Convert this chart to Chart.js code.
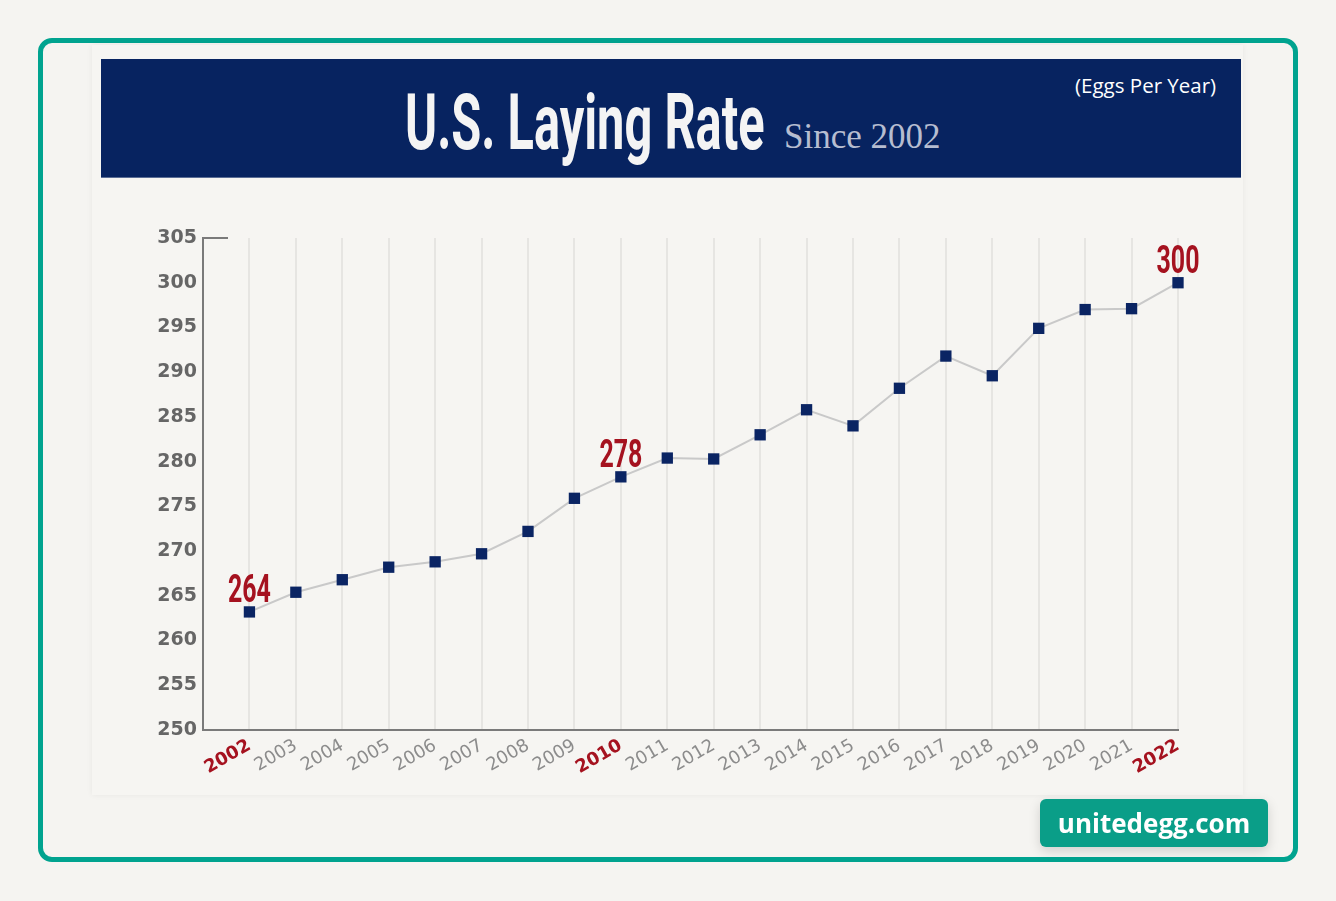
<!DOCTYPE html>
<html>
<head>
<meta charset="utf-8">
<script src="https://cdn.jsdelivr.net/npm/chart.js@4.4.1/dist/chart.umd.min.js"></script>
<style>
  html, body { margin: 0; padding: 0; background: #f5f4f1; }
  body { width: 1336px; height: 901px; position: relative; overflow: hidden; font-family: "Open Sans", sans-serif; }
  .frame { position: absolute; left: 38px; top: 38px; width: 1250px; height: 814px; border: 5px solid #00a38f; border-radius: 14px; background: #f5f4f1; }
  .panel { position: absolute; left: 92px; top: 45px; width: 1151px; height: 750px; background: #f6f5f2; box-shadow: 0 0 6px rgba(0,0,0,0.06); }
  .banner { position: absolute; left: 101px; top: 59px; width: 1140px; height: 118px; background: #072360; border-bottom: 1px solid #5a6d95; }
  .title { position: absolute; left: 405px; top: 78px; color: #f4f4f4; font-family: Roboto, sans-serif; font-weight: 700; font-size: 78px; line-height: 90px; transform-origin: left top; transform: scaleX(0.625); white-space: nowrap; }
  .sub { position: absolute; left: 784px; top: 117px; color: #b6bdd0; font-family: "Liberation Serif", serif; font-size: 35px; line-height: 40px; white-space: nowrap; }
  .unit { position: absolute; left: 1075px; top: 71px; color: #ffffff; font-family: "Open Sans", sans-serif; font-size: 20.5px; line-height: 28px; white-space: nowrap; }
  .chartbox { position: absolute; left: 101px; top: 178px; width: 1140px; height: 617px; }
  .badge { position: absolute; left: 1040px; top: 799px; width: 228px; height: 48px; border-radius: 6px; background: #0a9e88; color: #fff; font-family: "Open Sans", sans-serif; font-weight: 700; font-size: 26px; line-height: 48px; text-align: center; box-shadow: 0 4px 12px rgba(0,0,0,0.15); }
</style>
</head>
<body>
<div class="frame"></div>
<div class="panel"></div>
<div class="banner"></div>
<div class="title">U.S. Laying Rate</div>
<div class="sub">Since 2002</div>
<div class="unit">(Eggs Per Year)</div>
<div class="chartbox"><canvas id="chart"></canvas></div>
<div class="badge">unitedegg.com</div>
<script>
// eggs per hen per year
const years = [2002, 2003, 2004, 2005, 2006, 2007, 2008, 2009, 2010, 2011, 2012,
  2013, 2014, 2015, 2016, 2017, 2018, 2019, 2020, 2021, 2022];
const layingRate = [263.2, 265.4, 266.8, 268.2, 268.8, 269.7, 272.2, 275.9, 278.3, 280.4, 280.3,
  283.0, 285.8, 284.0, 288.2, 291.8, 289.6, 294.9, 297.0, 297.1, 300.0];
const highlightYears = [2002, 2010, 2022];
const highlightLabels = ['264', '278', '300'];
const yTicks = [250, 255, 260, 265, 270, 275, 280, 285, 290, 295, 300, 305];

const red = '#a5121f';
const navy = '#0a2463';

const calloutPlugin = {
  id: 'callouts',
  afterDraw(chart) {
    const ctx = chart.ctx;
    const area = chart.chartArea;
    // short cap line at the top of the y axis
    ctx.save();
    ctx.strokeStyle = '#7a7a7a';
    ctx.lineWidth = 2;
    ctx.beginPath();
    ctx.moveTo(area.left - 1, area.top);
    ctx.lineTo(area.left + 25, area.top);
    ctx.stroke();
    ctx.restore();

    const meta = chart.getDatasetMeta(0);
    highlightYears.forEach((yr, k) => {
      const pt = meta.data[years.indexOf(yr)];
      ctx.save();
      ctx.translate(pt.x, pt.y - 10);
      ctx.scale(0.64, 1);
      ctx.font = 'bold 39px Roboto';
      ctx.fillStyle = red;
      ctx.textAlign = 'center';
      ctx.textBaseline = 'alphabetic';
      ctx.fillText(highlightLabels[k], 0, 0);
      ctx.restore();
    });
  }
};

new Chart(document.getElementById('chart'), {
  type: 'line',
  data: {
    datasets: [{
      data: years.map((y, i) => ({ x: y, y: layingRate[i] })),
      borderColor: '#c9c9c9',
      borderWidth: 2,
      tension: 0,
      pointStyle: 'rect',
      pointRadius: 8,
      pointBackgroundColor: navy,
      pointBorderColor: navy,
      pointBorderWidth: 0,
      clip: false
    }]
  },
  options: {
    responsive: true,
    maintainAspectRatio: false,
    animation: false,
    layout: { padding: { top: 60, right: 63, left: 0, bottom: 0 } },
    plugins: { legend: { display: false }, tooltip: { enabled: false } },
    scales: {
      x: {
        type: 'linear',
        min: 2001,
        max: 2022,
        afterFit: (s) => { s.height = 65; },
        afterBuildTicks: (s) => { s.ticks = [2001].concat(years).map((v) => ({ value: v })); },
        border: { color: '#7a7a7a', width: 2 },
        grid: {
          color: (c) => (c.tick && c.tick.value === 2001 ? 'rgba(0,0,0,0)' : '#e6e5e2'),
          lineWidth: 2,
          drawTicks: false
        },
        ticks: {
          autoSkip: false,
          minRotation: 30,
          maxRotation: 30,
          padding: 5,
          callback: (v) => (v === 2001 ? '' : String(v)),
          color: (c) => (highlightYears.includes(c.tick.value) ? red : '#8c8c8c'),
          font: (c) => (highlightYears.includes(c.tick && c.tick.value)
            ? { family: 'DejaVu Sans', size: 18, weight: 'bold' }
            : { family: 'DejaVu Sans', size: 18 })
        }
      },
      y: {
        min: 250,
        max: 305,
        afterFit: (s) => { s.width = 102; },
        afterBuildTicks: (s) => { s.ticks = yTicks.map((v) => ({ value: v })); },
        border: { color: '#7a7a7a', width: 2 },
        grid: { display: false, drawTicks: false },
        ticks: {
          padding: 6,
          color: '#666666',
          font: { family: 'DejaVu Sans', size: 19, weight: 'bold' }
        }
      }
    }
  },
  plugins: [calloutPlugin]
});
</script>
</body>
</html>
